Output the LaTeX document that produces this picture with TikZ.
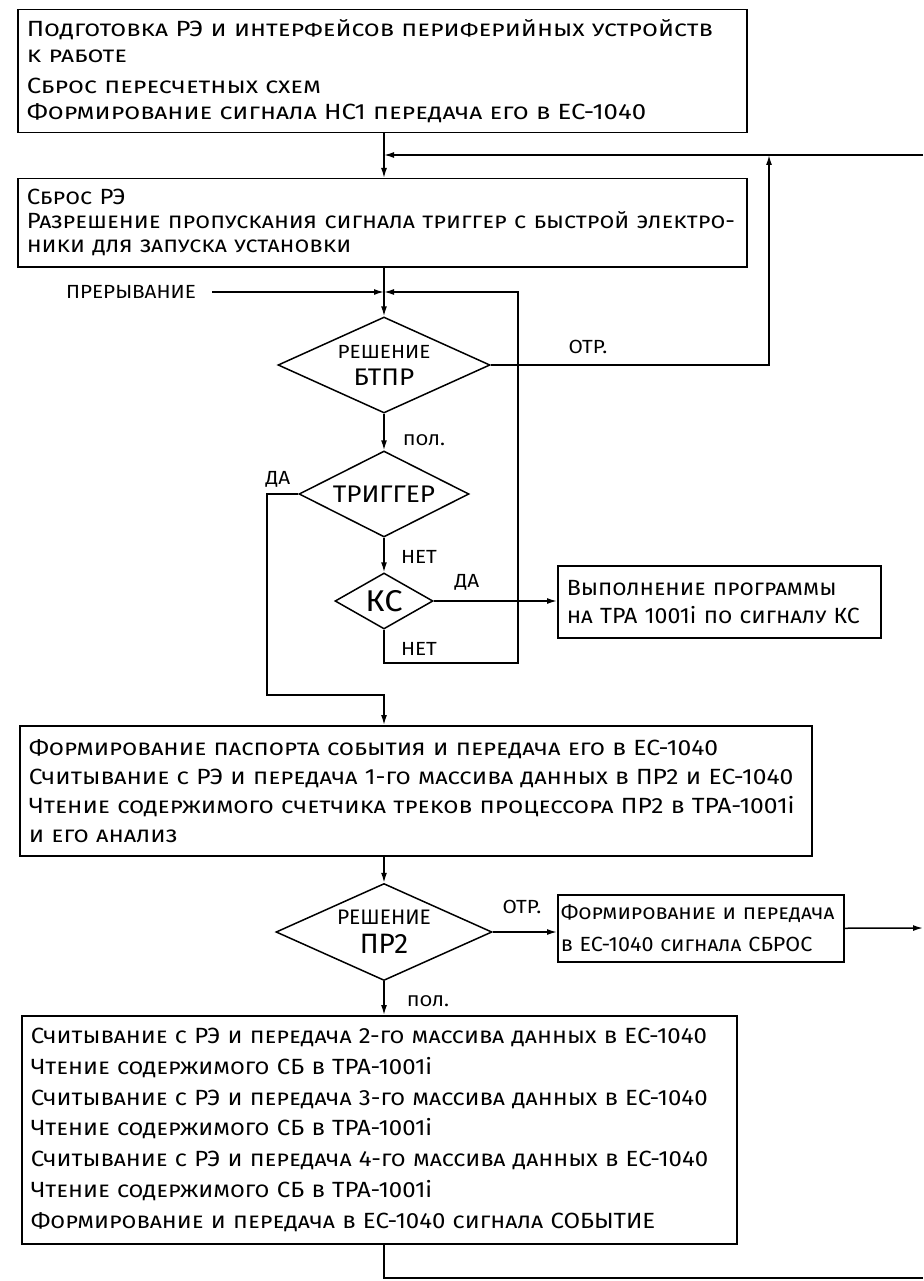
\documentclass[tikz,border=0pt]{standalone}
\usepackage{fontspec}
\setmainfont{Fira Sans}
\newfontfamily\fA{Fira Sans}[FakeStretch=1.17]
\newfontfamily\fB{Fira Sans}[FakeStretch=1.12]
\newfontfamily\fC{Fira Sans}[FakeStretch=1.09]
\newfontfamily\fD{Fira Sans}[FakeStretch=1.05]
\usetikzlibrary{shapes.geometric,arrows.meta}
\begin{document}
\begin{tikzpicture}[x=1pt,y=-1pt,
  line width=1.5pt,
  >={Latex[length=10pt,width=6pt]},
  blk/.style={draw, anchor=north west, align=left, inner xsep=9pt, inner ysep=0pt,
    font=\fA\fontsize{22}{26}\selectfont\scshape},
  dia/.style={draw, shape=diamond, inner sep=0pt, align=center,
    font=\fC\fontsize{19}{22}\selectfont},
  lbl/.style={font=\fC\fontsize{19}{22}\selectfont, inner sep=0pt}
]
\useasboundingbox (0,0) rectangle (923,1281);

% boxes
\node[blk, text width=711pt, minimum height=123pt] (b1) at (17,9) {%
\mbox{Подготовка РЭ и интерфейсов периферийных устройств}\\
к работе\\[5pt]
Сброс пересчетных схем\\
\mbox{Формирование сигнала НС1 передача его в ЕС-1040}};
\node[blk, text width=711pt, minimum height=88pt, font=\fC\fontsize{22}{24}\selectfont\scshape] (b2) at (17,178) {%
Сброс РЭ\\
\mbox{Разрешение пропускания сигнала триггер с быстрой электро-}\\
ники для запуска установки};
\node[blk, text width=305pt, minimum height=72pt, font=\fD\fontsize{22}{28}\selectfont\scshape] (bks) at (557,565) {%
\mbox{Выполнение программы}\\
\mbox{на ТРА 1001{\ulcshape i} по сигналу КС}};
\node[blk, text width=774pt, minimum height=130pt, font=\fB\fontsize{22}{29}\selectfont\scshape] (b3) at (19,725) {%
\mbox{Формирование паспорта события и передача его в ЕС-1040}\\
\mbox{Считывание с РЭ и передача 1-го массива данных в ПР2 и ЕС-1040}\\
\mbox{Чтение содержимого счетчика треков процессора ПР2 в ТРА-1001{\ulcshape i}}\\
и его анализ};
\node[blk, text width=280pt, minimum height=67pt, inner xsep=3pt, font=\fD\fontsize{20.5}{32}\selectfont\scshape] (bsb) at (557,894) {%
\mbox{Формирование и передача}\\
\mbox{в ЕС-1040 сигнала СБРОС}};
\node[blk, text width=697pt, minimum height=228pt, font=\fC\fontsize{22}{30.8}\selectfont\scshape] (b4) at (21,1015) {%
\mbox{Считывание с РЭ и передача 2-го массива данных в ЕС-1040}\\
Чтение содержимого СБ в ТРА-1001{\ulcshape i}\\
\mbox{Считывание с РЭ и передача 3-го массива данных в ЕС-1040}\\
Чтение содержимого СБ в ТРА-1001{\ulcshape i}\\
\mbox{Считывание с РЭ и передача 4-го массива данных в ЕС-1040}\\
Чтение содержимого СБ в ТРА-1001{\ulcshape i}\\
\mbox{Формирование и передача в ЕС-1040 сигнала СОБЫТИЕ}};

% decisions
\node[dia, minimum width=212pt, minimum height=96pt, aspect=2.2] (d1) at (384,365)
  {РЕШЕНИЕ\\[5pt]{\fontsize{24}{26}\selectfont БТПР}};
\node[dia, minimum width=170pt, minimum height=86pt, aspect=2, font=\fC\fontsize{24}{26}\selectfont] (d2) at (384,494)
  {ТРИГГЕР};
\node[dia, minimum width=98pt, minimum height=56pt, aspect=1.75, font=\fC\fontsize{30}{32}\selectfont] (d3) at (384,601)
  {КС};
\node[dia, minimum width=216pt, minimum height=97pt, aspect=2.2, font=\fontsize{21}{24}\selectfont] (d4) at (384,932)
  {РЕШЕНИЕ\\[5pt]{\fontsize{28}{30}\selectfont ПР2}};

% labels
\node[lbl] (prer) at (131,292) {ПРЕРЫВАНИЕ};
\node[lbl] (otr1) at (588,347) {ОТР.};
\node[lbl] (pol1) at (424,440) {\scshape пол.};
\node[lbl] (da1) at (278,479) {ДА};
\node[lbl] (net1) at (419,557) {НЕТ};
\node[lbl] (da2) at (467,582) {ДА};
\node[lbl] (net2) at (419,649) {НЕТ};
\node[lbl] (otr2) at (522,907) {ОТР.};
\node[lbl] (pol2) at (428,1001) {\scshape пол.};

% coordinates
\coordinate (j1) at (384,155);
\coordinate (e1) at (923,155);
\coordinate (r1) at (769,155);
\coordinate (j2) at (384,292);
\coordinate (pe) at (212,292);
\coordinate (c1) at (518,663);
\coordinate (c2) at (518,292);
\coordinate (c3) at (267,695);
\coordinate (c4) at (384,695);
\coordinate (e2) at (923,928);
\coordinate (c5) at (384,1278);
\coordinate (e3) at (923,1278);

% connectors
\draw[->] (d1.north |- b1.south) -- (d1.north |- b2.north);
\draw[->] (e1) -- (j1);
\draw[->] (d1.east) -| (r1);
\draw[->] (d1.north |- b2.south) -- (d1.north);
\draw[->] (pe) -- (j2);
\draw[->] (d3.south) |- (c1) -- (c2) -- (j2);
\draw[->] (d1.south) -- (d2.north);
\draw[->] (d2.south) -- (d3.north);
\draw[->] (d3.east) -- (d3.east -| bks.west);
\draw[->] (d2.west) -| (c3) -- (c4) -- (d4.north |- b3.north);
\draw[->] (d4.north |- b3.south) -- (d4.north);
\draw[->] (d4.east) -- (d4.east -| bsb.west);
\draw[->] (bsb.east) -- (e2);
\draw[->] (d4.south) -- (d4.south |- b4.north);
\draw (d4.south |- b4.south) -- (c5) -- (e3);
\end{tikzpicture}
\end{document}
